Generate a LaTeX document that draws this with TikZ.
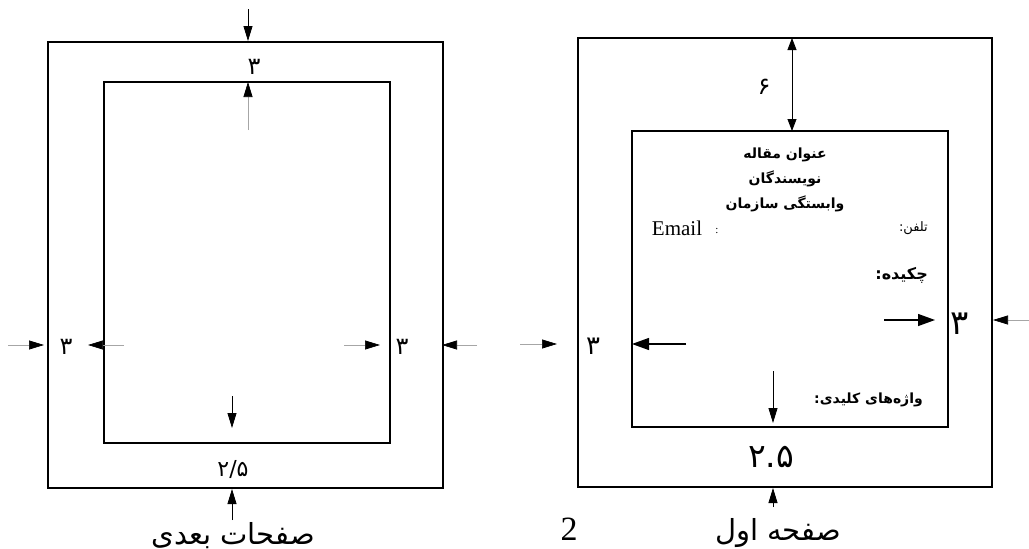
\documentclass[tikz,border=0pt]{standalone}
\usepackage{fontspec}
\setmainfont{Liberation Serif}
\newfontfamily\farsi[Script=Arabic]{DejaVu Sans}
\TeXXeTstate=1
\usetikzlibrary{arrows.meta}

\tikzset{
    page/.style={line width=1.5pt},
    dim/.style={-{Triangle[length=15pt,width=9pt]}, line width=0.8pt},
    faint/.style={-{Triangle[length=15pt,width=9pt,color=black]}, draw=gray!70, line width=0.7pt},
    bold dim/.style={-{Triangle[length=17pt,width=12pt]}, line width=1.3pt},
    num/.style={font=\farsi\fontsize{24}{28}\selectfont, inner sep=0pt},
    big/.style={font=\farsi\fontsize{29}{34}\selectfont, inner sep=0pt, anchor=base},
    head/.style={font=\farsi\bfseries\fontsize{14}{25}\selectfont, inner sep=0pt},
}

\begin{document}
\begin{tikzpicture}[x=1pt, y=-1pt]
    \useasboundingbox (0,0) rectangle (1029,549);

    % next pages
    \draw[page] (48,42)  rectangle (443,488);
    \draw[page] (104,82) rectangle (390,443);
    \coordinate (a1) at (248,9);    \coordinate (a2) at (248,41);
    \coordinate (b1) at (248,130);  \coordinate (b2) at (248,82);
    \coordinate (c1) at (8,345);    \coordinate (c2) at (44,345);
    \coordinate (d1) at (124,345);  \coordinate (d2) at (88,345);
    \coordinate (e1) at (344,345);  \coordinate (e2) at (380,345);
    \coordinate (f1) at (477,345);  \coordinate (f2) at (442,345);
    \coordinate (g1) at (232,396);  \coordinate (g2) at (232,428);
    \coordinate (h1) at (232,520);  \coordinate (h2) at (232,489);
    \draw[dim]   (a1) -- (a2);
    \draw[faint] (b1) -- (b2);
    \draw[faint] (c1) -- (c2);
    \draw[faint] (d1) -- (d2);
    \draw[faint] (e1) -- (e2);
    \draw[faint] (f1) -- (f2);
    \draw[dim]   (g1) -- (g2);
    \draw[dim]   (h1) -- (h2);
    \node[num] (ltop)   at (254,67)  {۳};
    \node[num] (lleft)  at (66,347)  {۳};
    \node[num] (lright) at (402,347) {۳};
    \node[num, font=\farsi\fontsize{22}{26}\selectfont] (lbot) at (233,469) {۲/۵};
    \node[big] (lname)  at (233,544) {\beginR صفحات بعدی\endR};

    % first page
    \draw[page] (578,38)  rectangle (992,487);
    \draw[page] (632,131) rectangle (948,427);
    \coordinate (p1) at (792,38);   \coordinate (p2) at (792,131);
    \coordinate (q1) at (520,344);  \coordinate (q2) at (557,344);
    \coordinate (r1) at (686,344);  \coordinate (r2) at (632,344);
    \coordinate (s1) at (884,320);  \coordinate (s2) at (935,320);
    \coordinate (t1) at (1029,320); \coordinate (t2) at (993,320);
    \coordinate (u1) at (773,371);  \coordinate (u2) at (773,423);
    \coordinate (v1) at (773,507);  \coordinate (v2) at (773,488);
    \draw[{Triangle[length=12pt,width=9pt]}-{Triangle[length=12pt,width=9pt]}, line width=0.8pt] (p1) -- (p2);
    \draw[faint]    (q1) -- (q2);
    \draw[bold dim] (r1) -- (r2);
    \draw[bold dim] (s1) -- (s2);
    \draw[faint]    (t1) -- (t2);
    \draw[dim]      (u1) -- (u2);
    \draw[dim]      (v1) -- (v2);
    \node[num] (six)    at (764,87)  {۶};
    \node[num, font=\farsi\fontsize{26}{30}\selectfont] (rleft) at (593,346) {۳};
    \node[num, font=\farsi\fontsize{34}{38}\selectfont] (rright) at (960,324) {۳};
    \node[num, font=\farsi\fontsize{33}{38}\selectfont] (rbot) at (771,457) {۲.۵};
    \node[head, align=center] (title) at (785,180)
        {\beginR عنوان مقاله\endR\\ \beginR نویسندگان\endR\\ \beginR وابستگی سازمان\endR};
    \node[font=\fontsize{21}{24}\selectfont, inner sep=0pt] (mail) at (677,228) {Email};
    \node[font=\fontsize{11}{13}\selectfont, inner sep=0pt] (colon) at (717,231) {:};
    \node[font=\farsi\fontsize{13}{16}\selectfont, inner sep=0pt, anchor=east] (tel) at (928,228) {\beginR تلفن:\endR};
    \node[head, font=\farsi\bfseries\fontsize{16}{20}\selectfont, anchor=east] (abs) at (928,275) {\beginR چکیده:\endR};
    \node[head, anchor=east] (keys) at (923,400) {\beginR واژه‌های کلیدی:\endR};
    \node[font=\fontsize{34}{38}\selectfont, inner sep=0pt, anchor=base] (pno) at (569,540) {2};
    \node[big] (rname) at (778,540) {\beginR صفحه اول\endR};
\end{tikzpicture}
\end{document}
